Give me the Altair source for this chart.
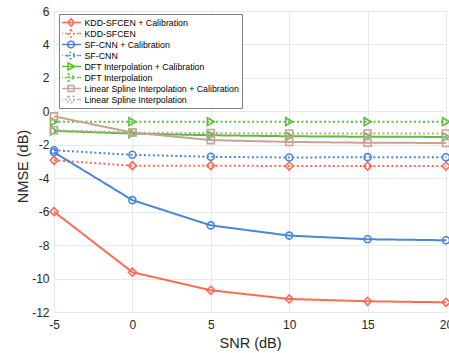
import altair as alt
import pandas as pd

snr = [-5, 0, 5, 10, 15, 20]
series = [
    "KDD-SFCEN + Calibration",
    "KDD-SFCEN",
    "SF-CNN + Calibration",
    "SF-CNN",
    "DFT Interpolation + Calibration",
    "DFT Interpolation",
    "Linear Spline Interpolation + Calibration",
    "Linear Spline Interpolation",
]
kdd_cal = [-6.0, -9.62, -10.70, -11.22, -11.36, -11.42]
kdd = [-2.93, -3.25, -3.25, -3.27, -3.27, -3.27]
sfcnn_cal = [-2.45, -5.31, -6.82, -7.43, -7.65, -7.71]
sfcnn = [-2.33, -2.60, -2.72, -2.76, -2.74, -2.75]
dft_cal = [-1.17, -1.33, -1.43, -1.49, -1.52, -1.53]
dft = [-0.62, -0.62, -0.62, -0.62, -0.62, -0.62]
lsi_cal = [-0.30, -1.27, -1.72, -1.83, -1.88, -1.89]
lsi = [-1.13, -1.27, -1.30, -1.33, -1.33, -1.33]
values = [kdd_cal, kdd, sfcnn_cal, sfcnn, dft_cal, dft, lsi_cal, lsi]

colors = ["#FF6A55", "#FF6A55", "#4A86D8", "#4A86D8",
          "#5CBD3D", "#5CBD3D", "#C4A497", "#C4A497"]
markers = ["diamond", "diamond", "circle", "circle",
           "triangle-right", "triangle-right", "square", "square"]
solid = [1, 0]
dotted = [2, 2.5]
dashes = [solid, dotted, solid, dotted, solid, dotted, solid, dotted]

# legend symbols: short line + marker (custom SVG paths, 1 unit = 3.5 px)
line_solid = "M-1.57,0L4.14,0"
line_dot = ("M-1.57,0L-1.07,0M-0.43,0L0.07,0M0.71,0L1.21,0"
            "M1.85,0L2.35,0M2.99,0L3.49,0M3.64,0L4.14,0")
m_diamond = "M1.29,-1.1L2.2,0L1.29,1.1L0.38,0Z"
m_circle = "M2.24,0A0.95,0.95,0,1,1,0.34,0A0.95,0.95,0,1,1,2.24,0Z"
m_tri = "M0.45,-1.05L2.35,0L0.45,1.05Z"
m_square = "M0.43,-0.86L2.15,-0.86L2.15,0.86L0.43,0.86Z"
legend_paths = [
    line_solid + m_diamond, line_dot + m_diamond,
    line_solid + m_circle, line_dot + m_circle,
    line_solid + m_tri, line_dot + m_tri,
    line_solid + m_square, line_dot + m_square,
]
marker_sizes = {"diamond": 64, "circle": 49, "triangle-right": 64, "square": 49}

rows = []
for s, vals, mk in zip(series, values, markers):
    for xv, yv in zip(snr, vals):
        rows.append({"snr": xv, "nmse": yv, "series": s, "marker": mk})
df = pd.DataFrame(rows)

FONT = "Liberation Sans"
TXT = "#262626"

x_enc = alt.X(
    "snr:Q",
    scale=alt.Scale(domain=[-5, 20], nice=False, zero=False),
    axis=alt.Axis(
        values=snr, title="SNR (dB)", grid=True, gridColor="#e8e8e8",
        domain=False, tickSize=0, labelPadding=7, labelFont=FONT,
        labelFontSize=12, labelColor=TXT, labelFlush=False,
        labelExpr="toString(datum.value)",
        titleFont=FONT, titleFontSize=14.5,
        titleFontWeight="normal", titleColor=TXT, titleY=31,
        titleBaseline="middle",
    ),
)
y_enc = alt.Y(
    "nmse:Q",
    scale=alt.Scale(domain=[-12, 6], nice=False, zero=False),
    axis=alt.Axis(
        values=[-12, -10, -8, -6, -4, -2, 0, 2, 4, 6], title="NMSE (dB)",
        grid=True, gridColor="#e8e8e8", domain=False, tickSize=0,
        labelPadding=5, labelFont=FONT, labelFontSize=12, labelColor=TXT,
        labelFlush=False, labelExpr="toString(datum.value)",
        titleFont=FONT, titleFontSize=14.5, titleFontWeight="normal",
        titleColor=TXT, titleX=-31, titleY=155, titleBaseline="middle",
        titleAngle=270,
    ),
)
cscale = alt.Scale(domain=series, range=colors)

leg = alt.Legend(
    orient="none", legendX=5, legendY=3, title=None, padding=3,
    symbolSize=49, symbolStrokeWidth=1.5, labelFont=FONT, labelFontSize=8.8,
    labelColor="#000000", labelOffset=13.5, labelLimit=300,
    strokeColor="#7f7f7f", fillColor="white", rowPadding=0, clipHeight=11,
    symbolFillColor="transparent", symbolOpacity=1, symbolDash=[1, 0],
)
color_enc = alt.Color("series:N", scale=cscale, legend=leg, sort=series)

base = alt.Chart(df)

lines = base.mark_line(strokeWidth=2).encode(
    x=x_enc,
    y=y_enc,
    color=color_enc,
    strokeDash=alt.StrokeDash("series:N", scale=alt.Scale(domain=series, range=dashes), legend=None),
)

point_layers = []
for mk in ["diamond", "circle", "triangle-right", "square"]:
    point_layers.append(
        base.transform_filter(alt.datum.marker == mk)
        .mark_point(shape=mk, filled=False, size=marker_sizes[mk], strokeWidth=1.6, opacity=1)
        .encode(x=x_enc, y=y_enc, color=color_enc)
    )

legend_layer = (
    base.transform_calculate(nmse="100")
    .mark_point(filled=False, size=49, strokeWidth=1.5, opacity=1, clip=True)
    .encode(
        x=x_enc,
        y=y_enc,
        color=color_enc,
        shape=alt.Shape("series:N", scale=alt.Scale(domain=series, range=legend_paths), legend=leg, sort=series),
    )
)

chart = (
    alt.layer(lines, *point_layers, legend_layer)
    .properties(
        width=392, height=301,
        autosize=alt.AutoSizeParams(type="none"),
        padding={"left": 54, "top": 11, "right": 3, "bottom": 41},
    )
    .configure_view(stroke="#8c8c8c", strokeWidth=1)
    .configure(background="white")
)

chart.save("out.html", embed_options={"renderer": "svg", "actions": False})
